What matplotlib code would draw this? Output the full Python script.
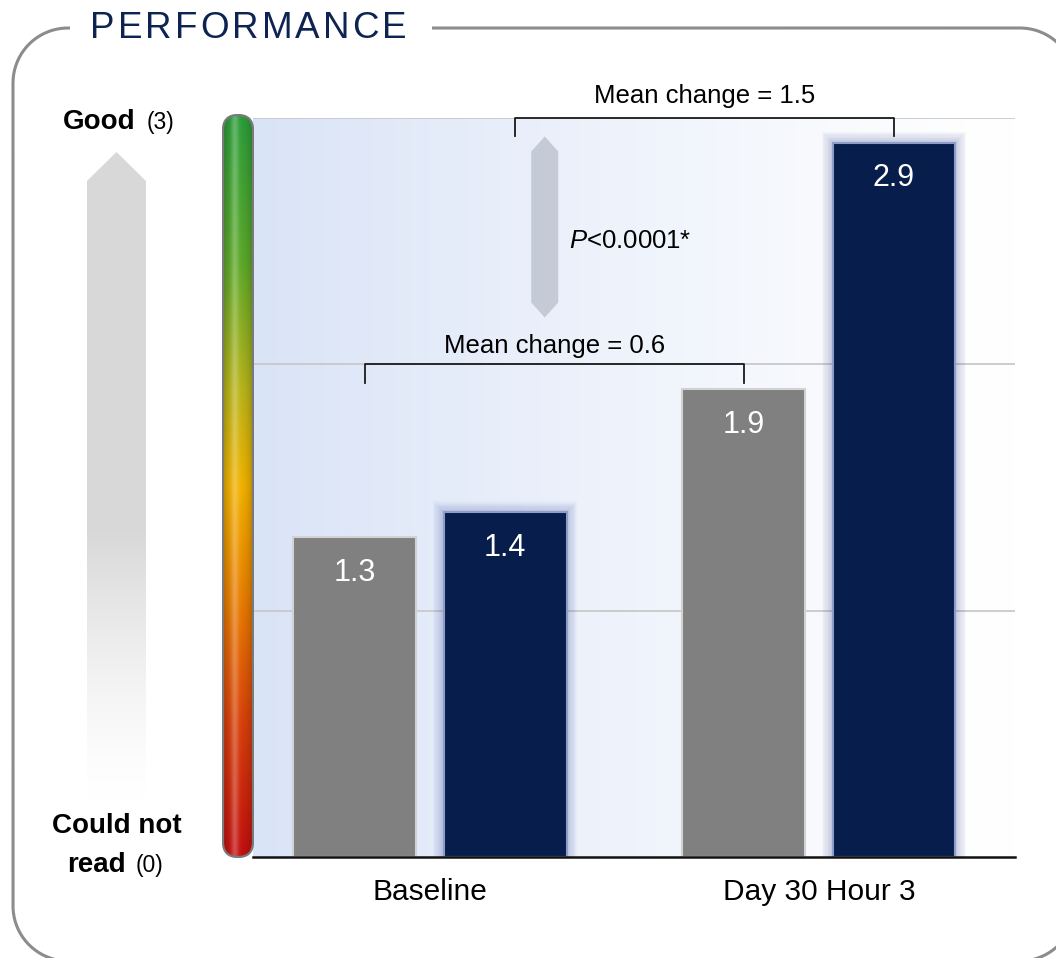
import numpy as np
import matplotlib
matplotlib.use('Agg')
import matplotlib.pyplot as plt
from matplotlib.colors import LinearSegmentedColormap, to_rgb
from matplotlib.patches import FancyBboxPatch, Polygon, Rectangle

plt.rcParams['font.family'] = ['Liberation Sans', 'DejaVu Sans']
plt.rcParams['mathtext.fontset'] = 'custom'
plt.rcParams['mathtext.it'] = 'Liberation Sans:italic'
plt.rcParams['mathtext.rm'] = 'Liberation Sans'

# data
groups = ['Baseline', 'Day 30 Hour 3']
gray_vals = [1.3, 1.9]
navy_vals = [1.4, 2.9]
mean_changes = [0.6, 1.5]
p_label = r'$\mathit{P}$<0.0001*'

W, H = 1056, 958
fig = plt.figure(figsize=(W / 100, H / 100), dpi=100)


def fy(y):
    # pixel rows counted from the top
    return H - y


def rounded_rect(x0, y0, x1, y1, rad, n=40):
    # closed outline of a rounded rectangle as plain line segments
    pts = []
    corners = [(x1 - rad, y1 - rad, 0), (x0 + rad, y1 - rad, 90),
               (x0 + rad, y0 + rad, 180), (x1 - rad, y0 + rad, 270)]
    for cx, cy, a0 in corners:
        a = np.radians(np.linspace(a0, a0 + 90, n))
        pts += list(zip(cx + rad * np.cos(a), cy + rad * np.sin(a)))
    pts.append(pts[0])
    return np.array(pts)


# pixel canvas for the frame and the side labels
bg = fig.add_axes([0, 0, 1, 1], zorder=0)
bg.set_xlim(0, W)
bg.set_ylim(0, H)
bg.axis('off')
outline = rounded_rect(13, fy(961), 1075, fy(28), 55)
bg.plot(outline[:, 0], outline[:, 1], color='#8c8c8c', lw=2.2)
bg.add_patch(Rectangle((70, fy(48)), 362, 40, fc='white', ec='none', zorder=2))

r = fig.canvas.get_renderer()
x = 90
for ch in 'PERFORMANCE':
    t = bg.text(x, fy(38), ch, fontsize=26.5, color='#0d2452', va='baseline',
                ha='left', zorder=3)
    x += t.get_window_extent(r).width + 3.1

bg.text(63, fy(129), 'Good', fontsize=20, fontweight='bold', va='baseline')
bg.text(147, fy(129), '(3)', fontsize=16.5, va='baseline')
bg.text(117, fy(833), 'Could not', fontsize=20, fontweight='bold',
        ha='center', va='baseline')
bg.text(67, fy(872), 'read', fontsize=20, fontweight='bold', va='baseline')
bg.text(136, fy(872), '(0)', fontsize=16.5, va='baseline')

# big fading arrow on the left
aw, ah = 59, 648
arr = fig.add_axes([87 / W, 1 - 800 / H, aw / W, ah / H], zorder=1)
arr.set_xlim(0, aw)
arr.set_ylim(0, ah)
arr.axis('off')
hh = np.arange(ah)[:, None]
f = np.clip(hh / 270.0, 0, 1) ** 1.4
top = np.array(to_rgb('#d8d8d8'))
img = (1 - f)[..., None] * np.ones(3) + f[..., None] * top
img = np.repeat(img, 2, axis=1)
im = arr.imshow(img, extent=[0, aw, 0, ah], origin='lower', aspect='auto')
clip = Polygon([(0, 0), (aw, 0), (aw, ah - 29), (aw / 2, ah), (0, ah - 29)],
               closed=True, fc='none', ec='none', transform=arr.transData)
arr.add_patch(clip)
im.set_clip_path(clip)

# glossy red-to-green scale bar
cw, chh = 32, 744
cb = fig.add_axes([222 / W, 1 - 858 / H, cw / W, chh / H], zorder=3)
cb.set_xlim(0, cw)
cb.set_ylim(0, chh)
cb.axis('off')
scale = LinearSegmentedColormap.from_list('scale', [
    (0.0, '#c20f0f'), (0.18, '#d8400a'), (0.34, '#e87b02'), (0.5, '#f2b200'),
    (0.63, '#b9b41a'), (0.8, '#5ea82a'), (1.0, '#2b9d3a')])
rows = scale(np.linspace(0, 1, chh))[:, :3]
u = np.linspace(0, 1, cw)
shade = 0.72 + 0.28 * np.sin(np.pi * u) ** 0.6
gloss = 0.25 * np.exp(-((u - 0.4) / 0.12) ** 2)
cimg = rows[:, None, :] * shade[None, :, None]
cimg = cimg * (1 - gloss[None, :, None]) + gloss[None, :, None]
cim = cb.imshow(np.clip(cimg, 0, 1), extent=[0, cw, 0, chh], origin='lower',
                aspect='auto')
cclip = FancyBboxPatch((1, 1), cw - 2, chh - 2,
                       boxstyle='round,pad=0,rounding_size=15',
                       fc='none', ec='#7a7a7a', lw=1.6, transform=cb.transData)
cb.add_patch(cclip)
cim.set_clip_path(cclip)

# main bar chart
ax = fig.add_axes([253 / W, 1 - 857 / H, (1015 - 253) / W, 739 / H], zorder=2)
xlim = (-0.455, 1.504)
ax.set_xlim(*xlim)
ax.set_ylim(0, 3)
ax.patch.set_alpha(0)

tt = np.linspace(0, 1, 300)
fade = (1 - tt) ** 1.2
left = np.array(to_rgb('#dae4f7'))
bimg = fade[:, None] * left + (1 - fade)[:, None] * np.ones(3)
ax.imshow(bimg[None, :, :], extent=[xlim[0], xlim[1], 0, 3], aspect='auto',
          zorder=0)

for yv in (1, 2, 3):
    ax.axhline(yv, color='#c9c9c9', lw=1.3, zorder=1)

xs = np.arange(len(groups))
off, bw = 0.193, 0.316
px_x, px_y = 1 / 389, 3 / 739

ax.bar(xs - off, gray_vals, width=bw, color='#808080', edgecolor='#d2d2d2',
       lw=1.5, zorder=3)
for xc, v in zip(xs + off, navy_vals):
    for k in range(9):
        pad = (k + 1) * 1.2
        ax.add_patch(Rectangle((xc - bw / 2 - pad * px_x, 0),
                               bw + 2 * pad * px_x, v + pad * px_y,
                               fc='#3a4c9c', ec='none', alpha=0.03, zorder=2))
ax.bar(xs + off, navy_vals, width=bw, color='#071d4b', edgecolor='#8e9cc8',
       lw=1.5, zorder=3)

for xc, v in list(zip(xs - off, gray_vals)) + list(zip(xs + off, navy_vals)):
    ax.annotate(f'{v:.1f}', (xc, v), xytext=(0, -31.5),
                textcoords='offset points', ha='center', va='baseline',
                color='white', fontsize=22, zorder=4)

# mean change brackets
brackets = [(xs[0] - off + 0.025, xs[1] - off, 2.0, mean_changes[0], 8),
            (xs[0] + off + 0.025, xs[1] + off, 3.0, mean_changes[1], 11)]
for x0, x1, yb, c, toff in brackets:
    ax.plot([x0, x0, x1, x1], [yb - 0.075, yb, yb, yb - 0.075],
            color='#1a1a1a', lw=1.3, zorder=5, clip_on=False)
    ax.annotate(f'Mean change = {c}', ((x0 + x1) / 2, yb), xytext=(0, toff),
                textcoords='offset points', ha='center', va='baseline',
                fontsize=18.5, zorder=5, annotation_clip=False)

# double-headed significance arrow
xa, hw, hd = 0.295, 13.5 * px_x, 15 * px_y
y0, y1 = 2.19, 2.925
ax.add_patch(Polygon([(xa - hw, y0 + hd), (xa, y0), (xa + hw, y0 + hd),
                      (xa + hw, y1 - hd), (xa, y1), (xa - hw, y1 - hd)],
                     closed=True, fc='#c4cbd7', ec='none', zorder=4))
ax.text(0.357, 2.5, p_label, fontsize=18.5, va='center', ha='left', zorder=5)

ax.set_xticks(xs, groups, fontsize=21.5)
ax.tick_params(axis='x', length=0, pad=15)
ax.set_yticks([])
for s in ('top', 'right', 'left'):
    ax.spines[s].set_visible(False)
ax.spines['bottom'].set_color('#111111')
ax.spines['bottom'].set_linewidth(1.8)
ax.spines['bottom'].set_zorder(6)

fig.savefig('out.png', dpi=100)
